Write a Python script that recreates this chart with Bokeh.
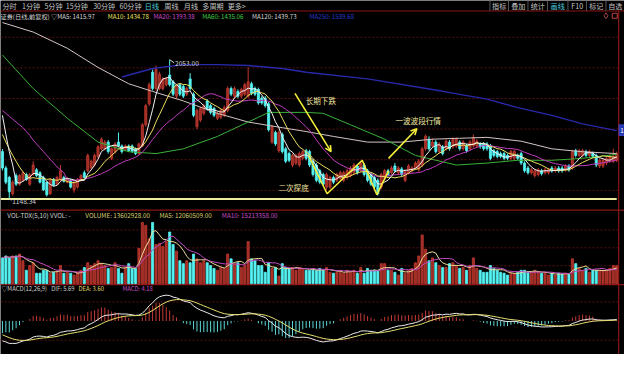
import numpy as np
from bokeh.plotting import figure
from bokeh.models import Range1d, ColumnDataSource, Label, Arrow, OpenHead
from bokeh.embed import file_html
from bokeh.resources import INLINE

# ---------------- data ----------------
opens = [1453, 1346, 1284, 1178, 1296, 1240, 1265, 1303, 1240, 1303,
         1334, 1315, 1284, 1253, 1178, 1271, 1240, 1271, 1284, 1253,
         1265, 1203, 1221, 1265, 1315, 1328, 1346, 1365, 1421, 1471,
         1471, 1515, 1409, 1453, 1515, 1490, 1465, 1490, 1490, 1471,
         1440, 1490, 1628, 1765, 1971, 1865, 1865, 1865, 1890, 1953,
         1909, 1815, 1890, 1878, 1828, 1928, 1828, 1615, 1659, 1703,
         1784, 1753, 1734, 1671, 1678, 1690, 1721, 1865, 1815, 1846,
         1815, 1828, 1815, 1896, 1865, 1859, 1803, 1803, 1765, 1515,
         1578, 1459, 1565, 1471, 1440, 1365, 1378, 1365, 1409, 1459,
         1453, 1390, 1365, 1328, 1303, 1221, 1221, 1284, 1265, 1278,
         1265, 1284, 1296, 1315, 1359, 1328, 1365, 1328, 1303, 1284,
         1265, 1221, 1278, 1328, 1315, 1359, 1315, 1340, 1265, 1315,
         1328, 1346, 1334, 1365, 1471, 1534, 1490, 1515, 1453, 1484,
         1471, 1515, 1484, 1490, 1515, 1471, 1490, 1471, 1490, 1490,
         1503, 1503, 1503, 1490, 1459, 1453, 1440, 1440, 1428, 1409,
         1409, 1428, 1440, 1378, 1346, 1315, 1296, 1303, 1328, 1315,
         1315, 1346, 1328, 1346, 1346, 1334, 1359, 1346, 1459, 1428,
         1428, 1453, 1428, 1440, 1428, 1359, 1359, 1378, 1390, 1390,
         1396]
closes = [1346, 1253, 1190, 1253, 1240, 1296, 1315, 1271, 1303, 1365,
          1296, 1253, 1203, 1171, 1271, 1234, 1284, 1328, 1259, 1278,
          1221, 1253, 1271, 1296, 1284, 1428, 1390, 1428, 1484, 1534,
          1515, 1453, 1471, 1503, 1490, 1453, 1490, 1459, 1453, 1440,
          1503, 1628, 1753, 1890, 1865, 1990, 1959, 1928, 1928, 1890,
          1828, 1878, 1828, 1815, 1865, 1865, 1690, 1721, 1734, 1753,
          1734, 1709, 1690, 1703, 1721, 1740, 1865, 1828, 1865, 1815,
          1859, 1890, 1909, 1834, 1828, 1771, 1771, 1753, 1596, 1615,
          1503, 1578, 1453, 1390, 1396, 1428, 1428, 1440, 1453, 1409,
          1365, 1303, 1265, 1253, 1240, 1303, 1284, 1253, 1303, 1315,
          1315, 1328, 1346, 1365, 1315, 1378, 1303, 1265, 1240, 1221,
          1178, 1303, 1328, 1303, 1346, 1328, 1346, 1303, 1328, 1359,
          1346, 1378, 1390, 1471, 1553, 1471, 1515, 1453, 1503, 1440,
          1521, 1471, 1534, 1534, 1471, 1515, 1459, 1515, 1546, 1521,
          1484, 1471, 1471, 1409, 1428, 1421, 1421, 1409, 1409, 1453,
          1453, 1409, 1378, 1328, 1315, 1334, 1328, 1334, 1309, 1334,
          1334, 1328, 1346, 1328, 1328, 1359, 1334, 1453, 1428, 1459,
          1459, 1428, 1453, 1421, 1365, 1396, 1396, 1409, 1421, 1421,
          1440]
highs = [1470, 1360, 1295, 1265, 1310, 1305, 1325, 1315, 1312, 1390,
         1345, 1325, 1295, 1262, 1280, 1280, 1295, 1365, 1295, 1288,
         1275, 1262, 1280, 1305, 1330, 1440, 1400, 1440, 1495, 1546,
         1528, 1528, 1480, 1515, 1577, 1500, 1500, 1500, 1500, 1480,
         1512, 1640, 1765, 1905, 1990, 2015, 1975, 1940, 1940, 2053,
         1920, 1890, 1900, 1890, 1878, 1965, 1840, 1734, 1746, 1765,
         1796, 1765, 1746, 1715, 1734, 1753, 1878, 1878, 1878, 1859,
         1871, 1903, 2003, 1909, 1878, 1871, 1815, 1815, 1778, 1628,
         1590, 1590, 1578, 1484, 1453, 1440, 1440, 1453, 1465, 1471,
         1465, 1403, 1378, 1340, 1315, 1315, 1296, 1296, 1315, 1328,
         1328, 1340, 1359, 1378, 1371, 1390, 1378, 1340, 1315, 1296,
         1278, 1315, 1340, 1340, 1359, 1378, 1359, 1352, 1340, 1371,
         1359, 1390, 1403, 1484, 1565, 1553, 1540, 1528, 1515, 1496,
         1534, 1528, 1546, 1546, 1528, 1528, 1503, 1528, 1565, 1534,
         1515, 1515, 1515, 1503, 1471, 1465, 1453, 1453, 1440, 1465,
         1465, 1440, 1453, 1390, 1359, 1346, 1340, 1346, 1340, 1346,
         1346, 1359, 1359, 1359, 1359, 1371, 1371, 1465, 1471, 1471,
         1471, 1465, 1465, 1453, 1440, 1409, 1409, 1421, 1434, 1471,
         1453]
lows = [1330, 1240, 1148, 1165, 1228, 1230, 1255, 1262, 1230, 1295,
        1285, 1245, 1195, 1160, 1170, 1225, 1232, 1262, 1250, 1245,
        1212, 1184, 1212, 1258, 1275, 1318, 1335, 1355, 1410, 1460,
        1460, 1440, 1398, 1440, 1480, 1440, 1455, 1450, 1445, 1430,
        1432, 1480, 1615, 1752, 1852, 1850, 1852, 1852, 1878, 1878,
        1815, 1802, 1815, 1802, 1815, 1852, 1678, 1600, 1646, 1690,
        1721, 1696, 1678, 1659, 1665, 1678, 1709, 1815, 1802, 1802,
        1802, 1815, 1802, 1821, 1815, 1759, 1759, 1740, 1584, 1503,
        1490, 1446, 1440, 1378, 1384, 1352, 1365, 1352, 1396, 1396,
        1352, 1290, 1252, 1240, 1228, 1203, 1209, 1240, 1253, 1265,
        1253, 1271, 1284, 1303, 1303, 1315, 1290, 1253, 1228, 1209,
        1165, 1209, 1265, 1290, 1303, 1315, 1303, 1290, 1253, 1303,
        1315, 1334, 1321, 1352, 1459, 1459, 1478, 1440, 1440, 1428,
        1459, 1459, 1471, 1478, 1459, 1459, 1446, 1459, 1478, 1478,
        1471, 1459, 1459, 1396, 1415, 1409, 1409, 1396, 1396, 1396,
        1396, 1396, 1365, 1315, 1303, 1303, 1284, 1290, 1296, 1303,
        1303, 1315, 1315, 1315, 1315, 1321, 1321, 1334, 1415, 1415,
        1415, 1415, 1415, 1409, 1352, 1346, 1346, 1365, 1378, 1378,
        1384]
# volume, millions of shares
volumes = [19.4, 20.9, 19.4, 20.9, 20.9, 22.3, 17.3, 10.1, 13.7, 15.8,
           7.9, 7.9, 10.1, 10.1, 7.9, 8.6, 8.6, 13.7, 7.9, 8.6,
           7.9, 6.5, 8.6, 10.1, 12.2, 15.8, 13.7, 15.1, 17.3, 15.1,
           13.7, 11.5, 12.2, 15.8, 11.5, 7.9, 12.2, 15.1, 11.5, 11.5,
           26.6, 46.1, 43.9, 33.8, 46.1, 29.5, 30.2, 28.1, 31.7, 38.9,
           29.5, 24.5, 17.3, 15.1, 17.3, 15.8, 22.3, 18.7, 15.8, 17.3,
           15.8, 13.7, 11.5, 10.1, 12.2, 11.5, 22.3, 18.7, 15.1, 15.8,
           12.2, 13.7, 31.7, 18.7, 17.3, 13.7, 13.7, 8.6, 15.8, 11.5,
           12.2, 5.8, 15.1, 12.2, 11.5, 12.2, 10.1, 12.2, 11.5, 10.1,
           10.1, 10.1, 10.1, 11.5, 10.1, 12.2, 8.6, 7.9, 8.6, 10.1,
           7.9, 10.1, 8.6, 10.1, 7.9, 12.2, 7.9, 11.5, 10.1, 10.1,
           10.1, 15.1, 15.1, 10.1, 10.1, 8.6, 6.5, 11.5, 7.9, 10.1,
           11.5, 15.8, 20.9, 36.7, 25.9, 17.3, 19.4, 15.8, 13.7, 12.2,
           12.2, 15.1, 15.8, 13.7, 11.5, 12.2, 10.1, 13.7, 19.4, 11.5,
           10.1, 8.6, 8.6, 13.7, 11.5, 10.1, 8.6, 7.9, 6.5, 7.9,
           7.9, 8.6, 10.1, 10.1, 8.6, 8.6, 10.1, 8.6, 7.9, 7.9,
           6.5, 7.9, 6.5, 7.9, 7.2, 7.9, 7.2, 18.7, 15.1, 11.5,
           10.1, 11.5, 8.6, 10.1, 10.1, 10.1, 10.1, 10.1, 11.5, 13.6,
           13.6]

# start of the short averages (before a full window exists)
ma5_lead = [1690, 1565, 1453, 1365]
ma10_lead = [1565, 1515, 1471, 1428, 1390, 1352, 1321, 1296, 1278]
ma20_lead = [1721, 1703, 1684, 1665, 1646, 1628, 1609, 1584, 1559, 1528,
             1503, 1478, 1453, 1428, 1403, 1378, 1353, 1334, 1315]
# long averages read at sample bars
ma60_idx = [0, 9, 19, 28, 37, 45, 53, 63, 72, 78, 89, 94, 102, 112, 121, 133, 142, 151, 161, 170, 180]
ma60_val = [2084, 1865, 1671, 1515, 1452, 1440, 1471, 1552, 1646, 1709, 1709, 1703, 1628, 1534, 1428,
            1365, 1378, 1396, 1396, 1409, 1435]
ma120_idx = [0, 9, 19, 28, 37, 44, 53, 63, 72, 82, 89, 97, 107, 117, 126, 134, 142, 152, 161, 170, 180]
ma120_val = [2296, 2234, 2128, 2003, 1896, 1846, 1784, 1703, 1646, 1609, 1584, 1552, 1515, 1515, 1534,
             1540, 1546, 1521, 1471, 1452, 1440]
ma250_idx = [35, 44, 53, 63, 72, 82, 89, 107, 126, 134, 142, 151, 161, 170, 180]
ma250_val = [1940, 1996, 2021, 2021, 2015, 1996, 1971, 1928, 1859, 1827, 1796, 1740, 1690, 1634, 1590]

ema12_seed, ema26_seed, dea_seed = 1450.0, 1563.0, -70.0

tabs = ["分时", "1分钟", "5分钟", "15分钟", "30分钟", "60分钟", "日线", "周线", "月线", "多周期", "更多>"]
buttons = ["指标", "叠加", "统计", "画线", "F10", "标记", "自选"]

# ---------------- layout helpers (reference pixel -> data) ----------------
def dx(px):
    return (px - 2) / 3.5

def dy(py):
    return 2440 - 6.25 * py

VOL_PX = 0.72      # millions per pixel
VOL_BASE = 296
MACD_ZERO = 335

n = len(closes)
idx = np.arange(n)
o = np.array(opens, float)
c = np.array(closes, float)
h = np.array(highs, float)
l = np.array(lows, float)
up = c >= o

RED_FILL, RED_LINE, CYAN = "#9e2d26", "#c23a30", "#56f2f2"
fill_cols = np.where(up, RED_FILL, CYAN)
line_cols = np.where(up, RED_LINE, CYAN)


def rolling(vals, w, lead):
    vals = np.asarray(vals, float)
    out = np.empty(len(vals))
    for i in range(len(vals)):
        if i < w - 1:
            out[i] = lead[i] if lead is not None else vals[:i + 1].mean()
        else:
            out[i] = vals[i - w + 1:i + 1].mean()
    return out


ma5 = rolling(c, 5, ma5_lead)
ma10 = rolling(c, 10, ma10_lead)
ma20 = rolling(c, 20, ma20_lead)
vma5 = rolling(volumes, 5, None)
vma10 = rolling(volumes, 10, None)


def ema(vals, span, seed):
    a = 2.0 / (span + 1)
    e = seed
    out = []
    for v in vals:
        e = e + a * (v - e)
        out.append(e)
    return np.array(out)


dif = ema(c, 12, ema12_seed) - ema(c, 26, ema26_seed)
dea = ema(dif, 9, dea_seed)
hist = 2 * (dif - dea)
s = dif.max() / 27.0

# ---------------- figure ----------------
p = figure(width=624, height=354, output_backend="svg", toolbar_location=None,
           x_range=Range1d(dx(0), dx(640)), y_range=Range1d(dy(370), dy(0)),
           x_axis_location=None, y_axis_location=None, min_border=0,
           background_fill_color="black", border_fill_color="black", outline_line_color=None)
p.grid.visible = False
p.extra_y_ranges = {
    "vol": Range1d((VOL_BASE - 370) * VOL_PX, VOL_BASE * VOL_PX),
    "macd": Range1d((MACD_ZERO - 370) * s, MACD_ZERO * s),
}

GRID = "#5c1010"
SEP = "#8a1616"
FONT = "Noto Sans CJK SC"

# grids
for lev in [1200, 1400, 1600, 1800, 2000, 2200]:
    p.segment(dx(0), lev, dx(634), lev, line_color=GRID, line_dash="2 2", line_width=1)
for lev in [13.5, 27.0, 40.5]:
    p.segment(dx(0), lev, dx(634), lev, line_color=GRID, line_dash="2 2", line_width=1, y_range_name="vol")
for lev in [20 * s, -20 * s]:
    p.segment(dx(0), lev, dx(634), lev, line_color=GRID, line_dash="2 2", line_width=1, y_range_name="macd")

# separators and border
for py in [11, 219, 297]:
    p.segment(dx(0), dy(py), dx(640), dy(py), line_color=SEP, line_width=1.2)
p.segment(dx(634), dy(11), dx(634), dy(370), line_color=SEP, line_width=1.2)

# ---------------- price panel ----------------
src = ColumnDataSource(dict(x=idx, o=o, c=c, h=h, l=l, top=np.maximum(o, c), bot=np.minimum(o, c),
                            fc=fill_cols, lc=line_cols, vol=volumes))
p.segment(x0="x", y0="l", x1="x", y1="h", source=src, line_color="lc", line_width=1)
p.vbar(x="x", top="top", bottom="bot", width=0.62, source=src, fill_color="fc", line_color="lc", line_width=0.8)

p.line(ma120_idx, ma120_val, line_color="#d2c4c4", line_width=1)
p.line(ma250_idx, ma250_val, line_color="#2828a8", line_width=1.4)
p.line(ma60_idx, ma60_val, line_color="#38b038", line_width=1)
p.line(idx, ma20, line_color="#c03cc0", line_width=1)
p.line(idx, ma10, line_color="#ece060", line_width=1)
p.line(idx, ma5, line_color="#f2f2f2", line_width=1)

# horizontal support line
p.segment(dx(0), dy(207.5), dx(632), dy(207.5), line_color="#eeeea0", line_width=2)

# high / low marks
hi_i = int(np.argmax(h))
lo_i = int(np.argmin(l))
p.segment(hi_i, h[hi_i], dx(178), dy(65), line_color="#cfcfcf", line_width=1)
p.add_layout(Label(x=dx(179), y=dy(66), text=f"{h[hi_i]:.2f}", text_color="#d4d4d4",
                   text_font_size="6.6px", text_font=FONT, text_baseline="middle"))
p.segment(lo_i, l[lo_i], dx(11), dy(209), line_color="#cfcfcf", line_width=1)
p.add_layout(Label(x=dx(12), y=dy(210), text="1148.34", text_color="#d4d4d4",
                   text_font_size="6.6px", text_font=FONT, text_baseline="middle"))

# hand-drawn annotations
YEL = "#f2ee3a"
p.line([dx(316), dx(335), dx(371), dx(386), dx(398)],
       [dy(162), dy(202), dy(167), dy(203), dy(178)], line_color=YEL, line_width=1.6)
p.add_layout(Arrow(end=OpenHead(size=6, line_color=YEL, line_width=1.6),
                   x_start=dx(302), y_start=dy(97), x_end=dx(339), y_end=dy(158),
                   line_color=YEL, line_width=1.6))
p.add_layout(Arrow(end=OpenHead(size=6, line_color=YEL, line_width=1.6),
                   x_start=dx(398), y_start=dy(165), x_end=dx(427), y_end=dy(134),
                   line_color=YEL, line_width=1.6))
ANN = "#f0e6a0"
for txt, px, py in [("长期下跌", 313, 105), ("一波波段行情", 405, 125), ("二次探底", 285, 195)]:
    p.add_layout(Label(x=dx(px), y=dy(py), text=txt, text_color=ANN, text_font_size="7.6px",
                       text_font=FONT, text_baseline="middle"))

# right-edge value tag
p.quad(left=dx(634.5), right=dx(640), top=dy(130), bottom=dy(141), fill_color="#2236b0", line_color="#3a4ad0")
p.add_layout(Label(x=dx(635.5), y=dy(135.5), text="1", text_color="white", text_font_size="7px",
                   text_font=FONT, text_baseline="middle"))

# ---------------- volume panel ----------------
p.vbar(x="x", top="vol", bottom=0, width=0.62, source=src, fill_color="fc", line_color="lc",
       line_width=0.8, y_range_name="vol")
p.line(idx, vma5, line_color="#e8dc9a", line_width=1, y_range_name="vol")
p.line(idx, vma10, line_color="#c04cc0", line_width=1, y_range_name="vol")

# ---------------- MACD panel ----------------
hcol = np.where(hist >= 0, "#c43a36", "#5cd6d6")
msrc = ColumnDataSource(dict(x=idx, z=np.zeros(n), hst=hist, col=hcol, dif=dif, dea=dea))
p.segment(x0="x", y0="z", x1="x", y1="hst", source=msrc, line_color="col", line_width=1, y_range_name="macd")
p.line("x", "dif", source=msrc, line_color="#ececec", line_width=1, y_range_name="macd")
p.line("x", "dea", source=msrc, line_color="#e6e070", line_width=1, y_range_name="macd")

# ---------------- header texts ----------------
tab_x = [2, 22, 45, 67, 95, 122, 148, 168, 188, 207, 233]
for t, px in zip(tabs, tab_x):
    p.add_layout(Label(x=dx(px), y=dy(5.5), text=t, text_color="#4cc8dc" if t == "日线" else "#c4c4c4",
                       text_font_size="7.1px", text_font=FONT, text_baseline="middle"))
btn_edges = [502, 521, 541, 561, 582, 601, 621, 640]
for t, a, b in zip(buttons, btn_edges[:-1], btn_edges[1:]):
    p.add_layout(Label(x=dx((a + b) / 2), y=dy(5.5), text=t, text_color="#4cc8dc" if t == "画线" else "#c4c4c4",
                       text_font_size="7.1px", text_font=FONT, text_baseline="middle", text_align="center"))
    p.segment(dx(a), dy(0), dx(a), dy(11), line_color="#555555", line_width=1)

legend = [("证券(日线,前复权) ▽MA5: 1415.97", 0, "#d6d6d6"), ("MA10: 1434.78", 110, "#e8e060"),
          ("MA20: 1393.38", 157, "#d048d0"), ("MA60: 1435.06", 207, "#44cc44"),
          ("MA120: 1439.73", 258, "#d6d6d6"), ("MA250: 1589.68", 317, "#2838c8")]
for t, px, col in legend:
    p.add_layout(Label(x=dx(px), y=dy(16.5), text=t, text_color=col, text_font_size="6.2px",
                       text_font=FONT, text_baseline="middle"))
p.scatter([dx(621)], [dy(16)], marker="diamond", size=6, fill_color=None, line_color="#a04040")
p.scatter([dx(630)], [dy(16)], marker="square", size=5, fill_color=None, line_color="#c04040")

vlegend = [("VOL-TDX(5,10)  VVOL: -", 7, "#cfcfcf"), ("VOLUME: 13602928.00", 87, "#d8d070"),
           ("MA5: 12060509.00", 163, "#d8d070"), ("MA10: 15213358.00", 227, "#c44cc4")]
for t, px, col in vlegend:
    p.add_layout(Label(x=dx(px), y=dy(224.5), text=t, text_color=col, text_font_size="6.3px",
                       text_font=FONT, text_baseline="middle"))

mlegend = [("▽MACD(12,26,9)", 1, "#cfcfcf"), ("DIF: 5.69", 52, "#cfcfcf"),
           ("DEA: 3.60", 80, "#e0d870"), ("MACD: 4.18", 125, "#c44cc4")]
for t, px, col in mlegend:
    p.add_layout(Label(x=dx(px), y=dy(301.5), text=t, text_color=col, text_font_size="5.9px",
                       text_font=FONT, text_baseline="middle"))

open("out.html", "w").write(file_html(p, INLINE))
